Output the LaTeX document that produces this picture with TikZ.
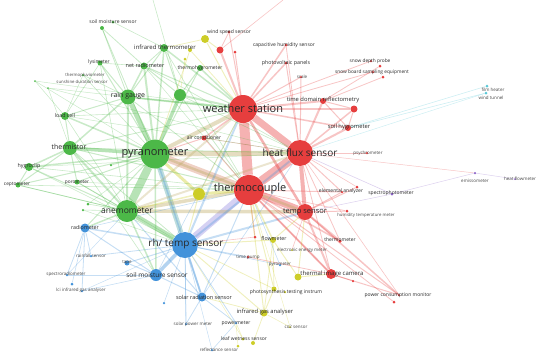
\documentclass[tikz,border=0pt]{standalone}
\usepackage{fontspec}
\setmainfont{Open Sans}
\usetikzlibrary{backgrounds}
\definecolor{cr}{RGB}{230,62,62}
\definecolor{cg}{RGB}{76,184,72}
\definecolor{cb}{RGB}{66,146,218}
\definecolor{cy}{RGB}{205,205,40}
\definecolor{cp}{RGB}{140,100,200}
\definecolor{cc}{RGB}{90,200,215}
\definecolor{col}{RGB}{190,170,100}
\definecolor{cbr}{RGB}{215,140,110}
\definecolor{cgb}{RGB}{90,170,170}
\definecolor{cpb}{RGB}{150,140,225}
\definecolor{labc}{RGB}{40,40,40}
\definecolor{labs}{RGB}{70,70,70}
\tikzset{
  vn/.style={circle,inner sep=0pt,minimum size=#1,draw=none},
  lab/.style={inner sep=0pt,text=labc,font=\fontsize{#1}{#1}\selectfont},
  labsm/.style={inner sep=0pt,text=labs,font=\fontsize{#1}{#1}\selectfont},
}
\begin{document}
\begin{tikzpicture}[x=1pt,y=-1pt]
\useasboundingbox (0,0) rectangle (550,357);
% ---------- red cluster
\node[vn=28pt,fill=cr] (ws) at (243,109) {};
\node[vn=26pt,fill=cr] (hf) at (300,153) {};
\node[vn=30pt,fill=cr] (tc) at (249,190) {};
\node[vn=16pt,fill=cr] (ts) at (305,212) {};
\node[vn=6pt,fill=cr] (tdr) at (323,101) {};
\node[vn=7pt,fill=cr] (r4) at (354,109) {};
\node[vn=6pt,fill=cr] (shy) at (348,128) {};
\node[vn=2.5pt,fill=cr] (psy) at (367,153) {};
\node[vn=3pt,fill=cr] (chs) at (286,45) {};
\node[vn=3pt,fill=cr] (pvp) at (286,63) {};
\node[vn=2.5pt,fill=cr] (sc) at (301,77) {};
\node[vn=2.5pt,fill=cr] (sdp) at (371,61) {};
\node[vn=3pt,fill=cr] (r3) at (380,66) {};
\node[vn=2.5pt,fill=cr] (sbe) at (373,72) {};
\node[vn=3pt,fill=cr] (r9) at (383,77) {};
\node[vn=3pt,fill=cr] (wsp) at (229,32) {};
\node[vn=7pt,fill=cr] (r1) at (220,50) {};
\node[vn=3pt,fill=cr] (r2) at (235,52) {};
\node[vn=5pt,fill=cr] (ac) at (204,138) {};
\node[vn=2.5pt,fill=cr] (ea) at (342,192) {};
\node[vn=3pt,fill=cr] (r5) at (357,187) {};
\node[vn=3pt,fill=cr] (htm) at (347,211) {};
\node[vn=3.5pt,fill=cr] (thm) at (340,241) {};
\node[vn=10pt,fill=cr] (tic) at (331,274) {};
\node[vn=2.5pt,fill=cr] (r6) at (353,281) {};
\node[vn=2.5pt,fill=cr] (pcm) at (399,295) {};
\node[vn=3pt,fill=cr] (r7) at (394,302) {};
\node[vn=3pt,fill=cr] (r8) at (255,237) {};
\node[vn=3pt,fill=cr] (tpu) at (248,257) {};
% ---------- green cluster
\node[vn=29pt,fill=cg] (py) at (155,154) {};
\node[vn=15pt,fill=cg] (rg) at (128,97) {};
\node[vn=12pt,fill=cg] (g1) at (180,95) {};
\node[vn=14pt,fill=cg] (th) at (70,148) {};
\node[vn=8pt,fill=cg] (lc) at (65,116) {};
\node[vn=8pt,fill=cg] (hy) at (29,167) {};
\node[vn=5pt,fill=cg] (ce) at (18,185) {};
\node[vn=5pt,fill=cg] (po) at (77,182) {};
\node[vn=22pt,fill=cg] (an) at (127,211) {};
\node[vn=8pt,fill=cg] (it) at (164,48) {};
\node[vn=7pt,fill=cg] (nr) at (144,66) {};
\node[vn=5pt,fill=cg] (ly) at (100,63) {};
\node[vn=6pt,fill=cg] (thg) at (200,68) {};
\node[vn=4pt,fill=cg] (smg) at (102,28) {};
\node[vn=3pt,fill=cg] (smg2) at (113,22) {};
\node[vn=2.5pt,fill=cg] (tpv) at (83,75) {};
\node[vn=2pt,fill=cg] (gd1) at (35,81) {};
\node[vn=2pt,fill=cg] (gd2) at (48,88) {};
\node[vn=3pt,fill=cg] (gd3) at (88,204) {};
\node[vn=2.5pt,fill=cg] (gd4) at (83,210) {};
\node[vn=2.5pt,fill=cg] (gd5) at (111,165) {};
% ---------- yellow cluster
\node[vn=8pt,fill=cy] (y1) at (205,39) {};
\node[vn=4pt,fill=cy] (y2) at (190,50) {};
\node[vn=3pt,fill=cy] (y3) at (185,59) {};
\node[vn=12pt,fill=cy] (y4) at (199,194) {};
\node[vn=6pt,fill=cy] (fm) at (273,240) {};
\node[vn=7pt,fill=cy] (tiy) at (298,277) {};
\node[vn=5pt,fill=cy] (pti) at (274,289) {};
\node[vn=2.5pt,fill=cy] (pti2) at (285,292) {};
\node[vn=7pt,fill=cy] (iga) at (264,313) {};
\node[vn=2pt,fill=cy] (co2) at (290,327) {};
\node[vn=3pt,fill=cy] (lw1) at (243,339) {};
\node[vn=4pt,fill=cy] (lw2) at (253,343) {};
\node[vn=3pt,fill=cy] (lw3) at (238,346) {};
% ---------- blue cluster
\node[vn=26pt,fill=cb] (rh) at (185,245) {};
\node[vn=9pt,fill=cb] (rad) at (85,228) {};
\node[vn=2.5pt,fill=cb] (rfs) at (91,256) {};
\node[vn=5pt,fill=cb] (tape) at (127,263) {};
\node[vn=12pt,fill=cb] (smb) at (156,275) {};
\node[vn=2.5pt,fill=cb] (spr) at (67,275) {};
\node[vn=2.5pt,fill=cb] (lci) at (82,291) {};
\node[vn=3pt,fill=cb] (b1) at (72,284) {};
\node[vn=2.5pt,fill=cb] (b2) at (164,303) {};
\node[vn=9pt,fill=cb] (srs) at (202,297) {};
\node[vn=2.5pt,fill=cb] (spm) at (186,324) {};
\node[vn=2.5pt,fill=cb] (pwm) at (236,323) {};
\node[vn=2.5pt,fill=cb] (rfl) at (212,350) {};
\node[vn=2.5pt,fill=cb] (pyr) at (280,265) {};
\node[vn=2pt,fill=cy] (eem) at (292,250) {};
% ---------- purple / teal
\node[vn=3pt,fill=cp] (sph) at (392,194) {};
\node[vn=2.5pt,fill=cp] (em) at (475,173) {};
\node[vn=2pt,fill=cp] (hfm) at (515,179) {};
\node[vn=3pt,fill=cc] (fh) at (487,86) {};
\node[vn=3pt,fill=cc] (wt) at (486,93) {};
\coordinate (top1) at (153,0);
\coordinate (top2) at (283,0);
% ---------- edges
\begin{scope}[on background layer]
\foreach \a/\b/\w/\c in {ws/tc/10pt/cr, ws/hf/7pt/cr, hf/tc/9pt/cr, tc/ts/7pt/cr, hf/ts/4pt/cr, ws/ts/2.5pt/cr,
  py/ws/4pt/col, py/hf/5pt/col, py/tc/7pt/cbr, py/an/8pt/cg, py/rg/5pt/cg, py/th/3.5pt/cg, py/rh/5pt/cgb,
  py/g1/3.5pt/cg, rh/tc/7pt/cpb, an/rh/5pt/cg, rh/smb/3.5pt/cb, an/ts/3.5pt/col, an/tc/3.5pt/col, py/ts/2.5pt/col,
  py/y4/3pt/cy, tc/y4/3pt/cy}
  \draw[line width=\w, draw=\c, draw opacity=.4] (\a) -- (\b);
\foreach \a/\b/\w/\c in {py/nr/2pt/cg, py/it/1.5pt/cg, py/hy/1.5pt/cg, py/lc/1.5pt/cg, py/ce/1pt/cg, py/po/1pt/cg,
  py/ly/1pt/cg, py/thg/1pt/cg, py/smg/.8pt/cg, py/ac/1pt/cr, py/srs/1.5pt/cb, py/smb/1.5pt/cg, py/rad/1pt/cg,
  py/gd5/.8pt/cg, rh/ws/2pt/cb, rh/hf/2pt/cb, rh/srs/2pt/cb, rh/rad/1.5pt/cb, rh/ts/2pt/cb, rh/tape/1pt/cb,
  rh/rfs/.8pt/cb, rh/tpu/1pt/cb, rh/iga/1pt/cy, rh/pti/.8pt/cy, rh/pwm/.8pt/cb, rh/spm/.8pt/cb, rh/fm/1pt/cy,
  rh/b2/.6pt/cb, an/ws/2pt/col, an/hf/2pt/col, an/rg/2pt/cg, an/th/2pt/cg, an/rad/1.5pt/cg, an/smb/1.5pt/cg,
  an/hy/1pt/cg, an/po/1pt/cg, an/ce/.8pt/cg, an/gd3/.6pt/cg, an/gd4/.6pt/cg, an/y4/1.5pt/cy, an/srs/1pt/cb,
  tc/tic/2pt/cr, ts/tic/2pt/cr, ts/thm/2pt/cr, tc/thm/1.5pt/cr, hf/shy/2pt/cr, hf/tdr/2pt/cr, ws/tdr/2pt/cr,
  ws/r4/1.5pt/cr, hf/r4/1.5pt/cr, ws/ac/1.5pt/cr, ws/pvp/1.5pt/cr, ws/chs/1.5pt/cr, ws/r1/2pt/cr, ws/sc/1pt/cr,
  ws/wsp/1pt/cr, ws/r2/1pt/cr, ws/rg/2pt/cg, ws/g1/2pt/cg, ws/it/1.5pt/cg, ws/thg/1.5pt/cg, ws/nr/1pt/cg,
  ws/y1/1pt/cy, ws/y2/.8pt/cy, ws/shy/1.5pt/cr, tc/ac/1pt/cr, hf/psy/1pt/cr, hf/ea/1pt/cr, tc/ea/1pt/cr,
  ts/htm/1pt/cr, ts/ea/1pt/cr, ts/r5/1pt/cr, ts/pcm/1.5pt/cr, tic/pcm/1pt/cr, tc/pcm/1pt/cr, tc/r8/1pt/cr,
  tic/r6/.8pt/cr, tc/r7/.8pt/cr, ws/sdp/.8pt/cr, ws/sbe/.8pt/cr, tdr/r3/.8pt/cr, tdr/r9/.8pt/cr, hf/sc/1pt/cr,
  tdr/r4/1pt/cr, shy/r4/1pt/cr, tdr/shy/1pt/cr, hf/pvp/1pt/cr, hf/chs/.8pt/cr, tc/fm/1.5pt/cy, fm/tiy/1pt/cy,
  tiy/tic/1pt/cy, pti/iga/1pt/cy, iga/lw2/.8pt/cy, fm/pti/.8pt/cy, fm/iga/.8pt/cy, ts/fm/1pt/cy, tc/iga/1pt/cy,
  tc/pti/1pt/cy, ts/tiy/1pt/cy, iga/co2/.6pt/cy, rfl/pwm/.6pt/cb, pwm/lw1/.6pt/cy, srs/spm/.8pt/cb,
  srs/pwm/.8pt/cb, srs/iga/.8pt/cy, smb/srs/1pt/cb, smb/tape/1pt/cb, smb/spr/.6pt/cb, smb/lci/.6pt/cb,
  rad/rfs/.8pt/cb, rad/spr/.8pt/cb, rad/lci/.8pt/cb, rad/b1/.6pt/cb, rad/smb/1pt/cb, rg/lc/1pt/cg, th/lc/1pt/cg,
  th/hy/1.5pt/cg, rg/th/1.5pt/cg, rg/nr/1.5pt/cg, rg/ly/1pt/cg, rg/it/1pt/cg, g1/it/1pt/cg, g1/thg/1pt/cg,
  g1/nr/1pt/cg, lc/gd1/.5pt/cg, rg/gd2/.5pt/cg, smg/nr/.8pt/cg, smg/rg/.8pt/cg, smg2/it/.6pt/cg, hy/ce/1pt/cg,
  th/ce/1pt/cg, th/po/1pt/cg, tpv/py/.6pt/cg, tpv/rg/.6pt/cg, y1/it/.8pt/cy, y2/py/.8pt/cy, y3/g1/.6pt/cy,
  y1/r1/1pt/cy, wsp/r1/.8pt/cr, hf/sph/.6pt/cp, hf/em/.5pt/cr, sph/em/.5pt/cp, ts/sph/.5pt/cp, em/hfm/.5pt/cp,
  shy/fh/.6pt/cc, shy/wt/.6pt/cc, hf/wt/.5pt/cc, tpu/tic/.8pt/cr, rh/pyr/.6pt/cb, lc/ws/.6pt/cg, th/ws/.8pt/cg,
  th/hf/.8pt/cg, hy/tc/.6pt/cg, ce/tc/.6pt/cg, gd1/ws/.5pt/cg, gd2/hf/.5pt/cg, th/tc/1pt/cg, g1/top1/.6pt/cg,
  r1/top2/.6pt/cr, rg/ws/1pt/cg, it/tc/.6pt/cg, nr/hf/.6pt/cg, ly/an/.6pt/cg, rad/tc/.6pt/cb, spr/an/.5pt/cb,
  lci/rh/.5pt/cb, smb/ws/.6pt/cb, srs/tc/1pt/cb, srs/hf/.6pt/cb, spm/rh/.5pt/cb, rfl/rh/.5pt/cb, lw1/rh/.5pt/cy,
  lw3/pwm/.5pt/cy, co2/tc/.5pt/cy, eem/ts/.6pt/cr, pyr/tc/.6pt/cb, r8/rh/.6pt/cr, tic/tc/1pt/cr, r5/hf/.6pt/cr,
  htm/tc/.6pt/cr, thm/hf/.8pt/cr, pcm/hf/.6pt/cr, tic/hf/.8pt/cr, ac/hf/.6pt/cr, y4/ws/1pt/cy, y4/rh/1pt/cy,
  th/rh/.8pt/cg, ce/an/.6pt/cg, lc/an/.6pt/cg, th/smb/.6pt/cg, hy/rh/.5pt/cg, gd3/py/.5pt/cg, gd4/rh/.5pt/cg,
  nr/it/.8pt/cg, ly/nr/.6pt/cg, ly/lc/.6pt/cg, tpv/lc/.5pt/cg, gd1/py/.5pt/cg, gd2/th/.5pt/cg, lc/hf/.5pt/cg,
  hy/hf/.5pt/cg, po/rh/.5pt/cg, po/tc/.5pt/cg, rg/tc/.8pt/cg, g1/tc/.8pt/cg, g1/hf/.6pt/cg, nr/tc/.5pt/cg}
  \draw[line width=\w, draw=\c, draw opacity=.3] (\a) -- (\b);
\end{scope}
% ---------- labels
\node[lab=11] (wsl) at (243,108) {weather station};
\node[lab=10] (hfl) at (300,153) {heat flux sensor};
\node[lab=11] (tcl) at (250,189) {thermocouple};
\node[lab=7.5] (tsl) at (305,212) {temp sensor};
\node[lab=11] (pyl) at (155,153) {pyranometer};
\node[lab=10] (rhl) at (186,244) {rh/ temp sensor};
\node[lab=8.5] (anl) at (127,211) {anemometer};
\node[lab=7] (rgl) at (128,96) {rain gauge};
\node[lab=7] (thl) at (69,147) {thermistor};
\node[lab=6.5] (smbl) at (157,275) {soil moisture sensor};
\node[lab=5.5] (srsl) at (204,297) {solar radiation sensor};
\node[lab=6] (ticl) at (332,274) {thermal image camera};
\node[lab=6] (itl) at (165,47) {infrared thermometer};
\node[lab=5.8] (tdrl) at (323,100) {time domain reflectometry};
\node[lab=5.8] (shyl) at (349,127) {soil hygrometer};
\node[lab=5.8] (igal) at (265,312) {infrared gas analyser};
\node[lab=5.3] (pvpl) at (286,63) {photovoltaic panels};
\node[lab=5] (ptil) at (286,292) {photosynthesis testing instrum};
\node[lab=5.5] (nrl) at (145,65) {net radiometer};
\node[lab=5.3] (fml) at (274,238) {flowmeter};
\node[lab=5.3] (radl) at (85,228) {radiometer};
\node[lab=5.3] (lcl) at (65,116) {load cell};
\node[lab=5.3] (hyl) at (29,166) {hygroclip};
\node[lab=5] (wspl) at (229,32) {wind speed sensor};
\node[lab=5] (smgl) at (113,22) {soil moisture sensor};
\node[lab=5] (lyl) at (99,62) {lysimeter};
\node[lab=5] (thgl) at (200,68) {thermohygrometer};
\node[lab=5] (pcml) at (398,295) {power consumption monitor};
\node[lab=5] (thml) at (340,240) {thermometer};
\node[lab=5] (eal) at (341,191) {elemental analyzer};
\node[lab=5] (sphl) at (391,193) {spectrophotometer};
\node[lab=5] (chsl) at (284,45) {capacitive humidity sensor};
\node[lab=4.8] (sdpl) at (370,61) {snow depth probe};
\node[lab=4.8] (sbel) at (372,72) {snow board sampling equipment};
\node[lab=5] (acl) at (204,138) {air conditioner};
\node[lab=5] (pwml) at (236,323) {powermeter};
\node[lab=5] (lwsl) at (244,339) {leaf wetness sensor};
\node[lab=4.8] (cel) at (17,184) {ceptometer};
\node[lab=4.8] (pol) at (77,182) {porometer};
\node[labsm=4.5] (scl) at (302,77) {scale};
\node[labsm=4.5] (psyl) at (368,153) {psychrometer};
\node[labsm=4.5] (fhl) at (493,90) {film heater};
\node[labsm=4.5] (wtl) at (491,98) {wind tunnel};
\node[labsm=4.5] (eml) at (475,181) {emissometer};
\node[labsm=4.5] (hfml) at (520,179) {heat flowmeter};
\node[labsm=4.3] (html) at (366,215) {humidity temperature meter};
\node[labsm=4.5] (eeml) at (302,250) {electronic energy meter};
\node[labsm=4.5] (tpul) at (248,257) {time pump};
\node[labsm=4.5] (pyrl) at (280,265) {pyrometer};
\node[labsm=4.5] (co2l) at (296,327) {co2 sensor};
\node[labsm=4.5] (spml) at (193,324) {solar power meter};
\node[labsm=4.5] (rfll) at (219,350) {reflectance sensor};
\node[labsm=4.5] (tapel) at (127,263) {tape};
\node[labsm=4.5] (rfsl) at (91,256) {rainfall sensor};
\node[labsm=4.5] (sprl) at (66,274) {spectroradiometer};
\node[labsm=4.5] (lcil) at (81,290) {lci infrared gas analyser};
\node[labsm=4.3] (tpvl) at (85,75) {thermopluviometer};
\node[labsm=4.3] (sdsl) at (82,82) {sunshine duration sensor};
\end{tikzpicture}
\end{document}
